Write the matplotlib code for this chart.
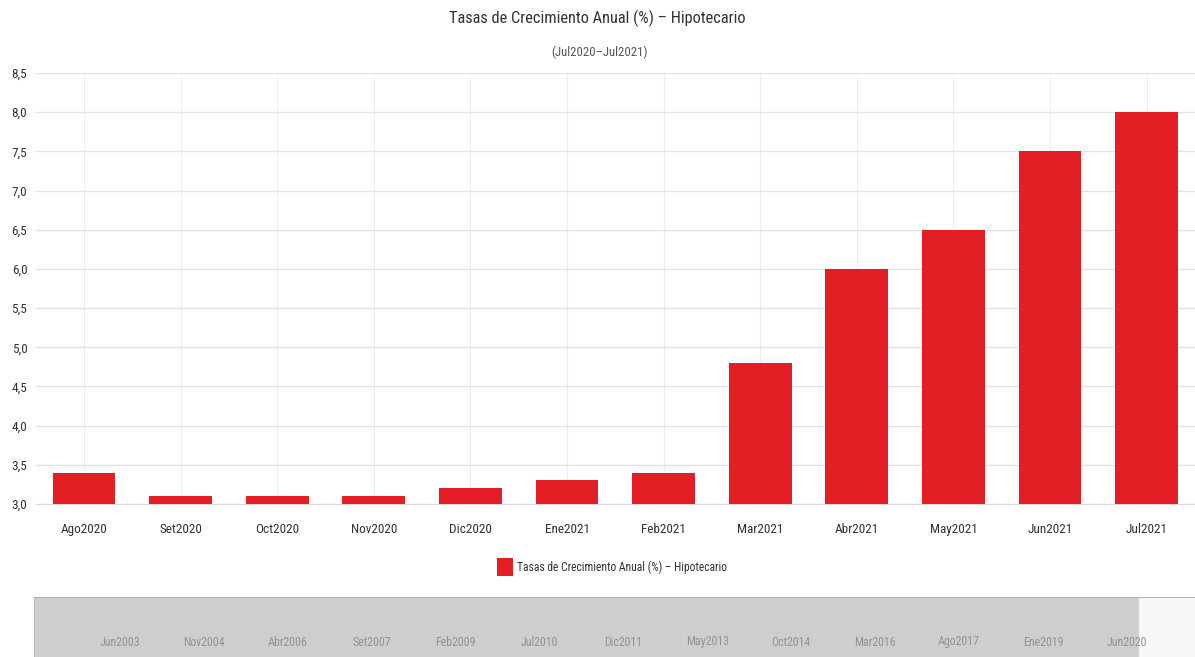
import matplotlib
matplotlib.use("Agg")
import matplotlib.pyplot as plt
from matplotlib import font_manager
import numpy as np
from matplotlib.patches import Rectangle

installed = {f.name for f in font_manager.fontManager.ttflist}
candidates = ['Liberation Sans Narrow', 'DejaVu Sans Condensed', 'Roboto Condensed',
              'Open Sans Condensed', 'Noto Sans Condensed', 'Lato', 'Roboto']
chosen = next((c for c in candidates if c in installed), 'DejaVu Sans')
plt.rcParams['font.family'] = [chosen, 'DejaVu Sans']
narrow = chosen in ('Liberation Sans Narrow', 'DejaVu Sans Condensed', 'Roboto Condensed',
                    'Open Sans Condensed', 'Noto Sans Condensed')
scale = 1.0 if narrow else 0.88

categories = ["Ago2020", "Set2020", "Oct2020", "Nov2020", "Dic2020", "Ene2021",
              "Feb2021", "Mar2021", "Abr2021", "May2021", "Jun2021", "Jul2021"]
values = [3.4, 3.1, 3.1, 3.1, 3.2, 3.3, 3.4, 4.8, 6.0, 6.5, 7.5, 8.0]
series_name = "Tasas de Crecimiento Anual (%) – Hipotecario"
title = "Tasas de Crecimiento Anual (%) – Hipotecario"
subtitle = "(Jul2020–Jul2021)"
yticks = [3.0, 3.5, 4.0, 4.5, 5.0, 5.5, 6.0, 6.5, 7.0, 7.5, 8.0, 8.5]

# navigator (months counted from Jun2003)
nav_labels = ["Jun2003", "Nov2004", "Abr2006", "Set2007", "Feb2009", "Jul2010", "Dic2011",
              "May2013", "Oct2014", "Mar2016", "Ago2017", "Ene2019", "Jun2020"]
nav_positions = [0, 17, 34, 51, 68, 85, 102, 119, 136, 153, 170, 187, 204]
nav_range = (-17.4, 217.8)
nav_selected_start = 206.5

W, H = 1195, 657
fig = plt.figure(figsize=(W / 100, H / 100), dpi=100)

def fx(px):
    return px / W

def fy(py):
    return 1 - py / H

ax = fig.add_axes([fx(35.7), fy(504), fx(1195) - fx(35.7), fy(73) - fy(504)])
x = np.arange(len(categories))
ax.bar(x, values, width=0.65, color="#e41e25", zorder=3, bottom=0)
ax.set_xlim(-0.5, len(categories) - 0.5)
ax.set_ylim(3.0, 8.5)
ax.set_yticks(yticks)
ax.set_yticklabels([f"{v:.1f}".replace(".", ",") for v in yticks])
ax.set_xticks(x)
ax.set_xticklabels(categories)
ax.tick_params(axis='x', length=0, pad=14, labelsize=9.5 * scale, colors="#333333")
ax.tick_params(axis='y', length=0, pad=6, labelsize=9.5 * scale, colors="#333333")
ax.grid(axis='y', color="#e3e3e3", linewidth=1, zorder=0)
ax.grid(axis='x', color="#eeeeee", linewidth=0.8, zorder=0)
for s in ["top", "right", "left"]:
    ax.spines[s].set_visible(False)
ax.spines["bottom"].set_color("#d8d8d8")

fig.text(fx(597), fy(18), title, ha="center", va="center", fontsize=11.8 * scale, color="#333333")
fig.text(fx(600), fy(52), subtitle, ha="center", va="center", fontsize=9.2 * scale, color="#555555")

handle = Rectangle((0, 0), 1, 1, facecolor="#e41e25")
fig.legend([handle], [series_name], loc="center", bbox_to_anchor=(fx(612), fy(567)),
           frameon=False, handlelength=1.37, handleheight=1.9, handletextpad=0.35,
           fontsize=8.4 * scale, labelcolor="#333333")

# navigator
nav = fig.add_axes([fx(34), 0, fx(1195) - fx(34), fy(597)])
nav.set_xlim(*nav_range)
nav.set_ylim(0, 1)
nav.axvspan(nav_range[0], nav_selected_start, color="#cecece", zorder=1)
nav.axvspan(nav_selected_start, nav_range[1], color="#f8f8f8", zorder=1)
for p, lab in zip(nav_positions, nav_labels):
    nav.text(p, 1 - (642 - 597) / 60, lab, ha="center", va="center", fontsize=8.6 * scale,
             color="#939393", zorder=2)
nav.set_xticks([])
nav.set_yticks([])
for s in ["bottom", "right"]:
    nav.spines[s].set_visible(False)
nav.spines["top"].set_color("#b5b5b5")
nav.spines["left"].set_color("#bdbdbd")

fig.savefig("out.png", dpi=100)
